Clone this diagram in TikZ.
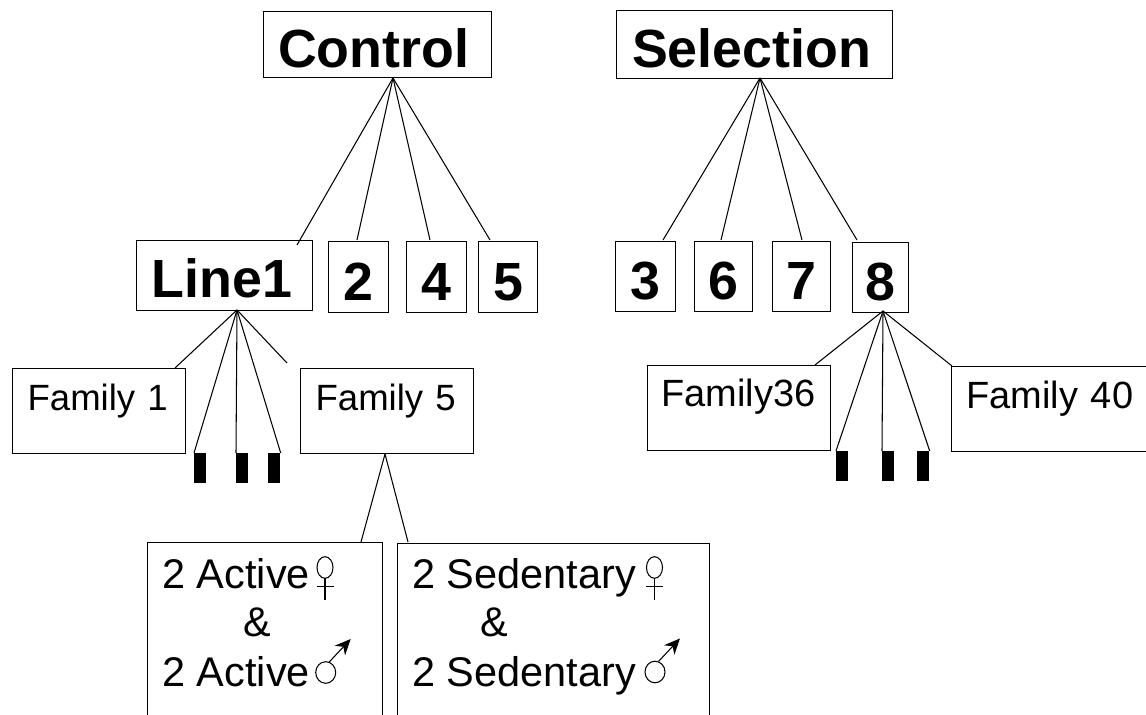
\documentclass[tikz,border=0pt]{standalone}
\usepackage{fontspec}
\setmainfont{Liberation Sans}
\usetikzlibrary{arrows.meta}
\begin{document}
\begin{tikzpicture}[x=0.02cm,y=-0.02cm]
      \newcommand{\venus}[2]{
        \draw[symb] (#1,#2) ellipse (8 and 10.8);
        \draw[symb] (#1,#2+10.8) -- (#1,#2+32.5);
        \draw[symb] (#1-8.5,#2+19) -- (#1+8.5,#2+19);
      }
      \newcommand{\mars}[2]{
        \draw[symb] (#1,#2) ellipse (10 and 10.8);
        \draw[symb,-{Stealth[length=9pt,width=8pt]}] (#1+3.5,#2-10.5) -- (#1+25,#2-33.5);
      }
      \tikzstyle{edge}=[draw=black,line width=0.6pt]
      \tikzstyle{symb}=[draw=black,line width=0.6pt]
      \tikzstyle{box}=[draw=black,line width=0.7pt,inner sep=0,anchor=north west]
      \tikzstyle{big}=[box,font=\fontsize{30.6}{36}\bfseries\selectfont,text height=26.5pt,text depth=0pt]
      \tikzstyle{fam}=[box,font=\fontsize{20.8}{25}\selectfont,align=left,inner xsep=15*0.02cm,text height=42*0.02cm,text depth=43*0.02cm]
      \tikzstyle{bar}=[fill=black,inner sep=0,anchor=north west,minimum width=12*0.02cm,minimum height=30*0.02cm]
      \tikzstyle{txt}=[inner sep=0,anchor=base west,font=\fontsize{23.6}{28}\selectfont]

      \useasboundingbox (0,0) rectangle (1146,715);
      \clip (0,0) rectangle (1146,715);

      \node[big, minimum width=228*0.02cm, minimum height=66*0.02cm] (control) at (263,11) {Control\kern0.16cm};
      \node[big, minimum width=276*0.02cm, minimum height=68*0.02cm] (selection) at (616,10) {Selection\kern0.12cm};

      \node[big, text height=25pt, minimum width=176*0.02cm, minimum height=70*0.02cm] (line1) at (136,240) {Line1\kern0.1cm};
      \node[big, minimum width=60*0.02cm, minimum height=71*0.02cm] (line2) at (328,241) {2};
      \node[big, minimum width=60*0.02cm, minimum height=71*0.02cm] (line4) at (406,241) {4};
      \node[big, minimum width=59*0.02cm, minimum height=71*0.02cm] (line5) at (478,241) {5};
      \node[big, minimum width=60*0.02cm, minimum height=70*0.02cm] (line3) at (615,241) {3};
      \node[big, minimum width=58*0.02cm, minimum height=70*0.02cm] (line6) at (694,241) {6};
      \node[big, minimum width=58*0.02cm, minimum height=70*0.02cm] (line7) at (772,241) {7};
      \node[big, minimum width=56*0.02cm, minimum height=70*0.02cm] (line8) at (852,242) {8};

      \node[fam, text width=143*0.02cm] (fam1) at (12,368) {Family 1};
      \node[fam, text width=143*0.02cm] (fam5) at (300,368) {Family 5};
      \node[fam, font=\fontsize{21.6}{25}\selectfont, text width=155*0.02cm, text height=41*0.02cm, text depth=44*0.02cm, inner xsep=14*0.02cm] (fam36) at (647,365) {Family36};
      \node[fam, font=\fontsize{21.6}{25}\selectfont, text width=200*0.02cm] (fam40) at (951,366) {Family 40};

      \node[bar] (b1) at (194,453) {};
      \node[bar] (b2) at (236,453) {};
      \node[bar] (b3) at (268,453) {};
      \node[bar] (b4) at (836,451) {};
      \node[bar] (b5) at (882,451) {};
      \node[bar] (b6) at (917,451) {};

      \node[box, minimum width=235*0.02cm, minimum height=200*0.02cm] (active) at (147,542) {};
      \node[box, minimum width=312*0.02cm, minimum height=200*0.02cm] (sedentary) at (397,543) {};

      \node[txt] (a1) at (162,589) {2 Active};
      \node[txt] (a2) at (243,637) {\&};
      \node[txt] (a3) at (162,686) {2 Active};
      \node[txt] (s1) at (412,589) {2 Sedentary};
      \node[txt] (s2) at (480,637) {\&};
      \node[txt] (s3) at (412,686) {2 Sedentary};

      \venus{325}{567.5}
      \mars{325.7}{672.5}
      \venus{654.5}{567.5}
      \mars{655}{672}

      \coordinate (ctop) at (393,78);
      \coordinate (stop) at (760,78);
      \coordinate (ltop) at (237,310);
      \coordinate (etop) at (883,311);
      \coordinate (ftop) at (385,454);
      \coordinate (e1) at (297,245);
      \coordinate (e2) at (357,240);
      \coordinate (e4) at (430,240);
      \coordinate (e5) at (490,240);
      \coordinate (e3) at (663,240);
      \coordinate (e6) at (721,240);
      \coordinate (e7) at (802,240);
      \coordinate (e8) at (857,240);
      \coordinate (l1) at (175,368);
      \coordinate (l5) at (287,363);
      \coordinate (r1) at (815,365);
      \coordinate (r5) at (952,366);
      \coordinate (f1) at (361,542);
      \coordinate (f2) at (408,542);

      \draw[edge] (ctop)--(e1);
      \draw[edge] (ctop)--(e2);
      \draw[edge] (ctop)--(e4);
      \draw[edge] (ctop)--(e5);
      \draw[edge] (stop)--(e3);
      \draw[edge] (stop)--(e6);
      \draw[edge] (stop)--(e7);
      \draw[edge] (stop)--(e8);
      \draw[edge] (ltop)--(l1);
      \draw[edge] (ltop)--(b1.north west);
      \draw[edge] (ltop)--(b2.north west);
      \draw[edge] (ltop)--(b3.north east);
      \draw[edge] (ltop)--(l5);
      \draw[edge] (etop)--(r1);
      \draw[edge] (etop)--(b4.north west);
      \draw[edge] (etop)--(b5.north west);
      \draw[edge] (etop)--(b6.north east);
      \draw[edge] (etop)--(r5);
      \draw[edge] (ftop)--(f1);
      \draw[edge] (ftop)--(f2);
\end{tikzpicture}
\end{document}
